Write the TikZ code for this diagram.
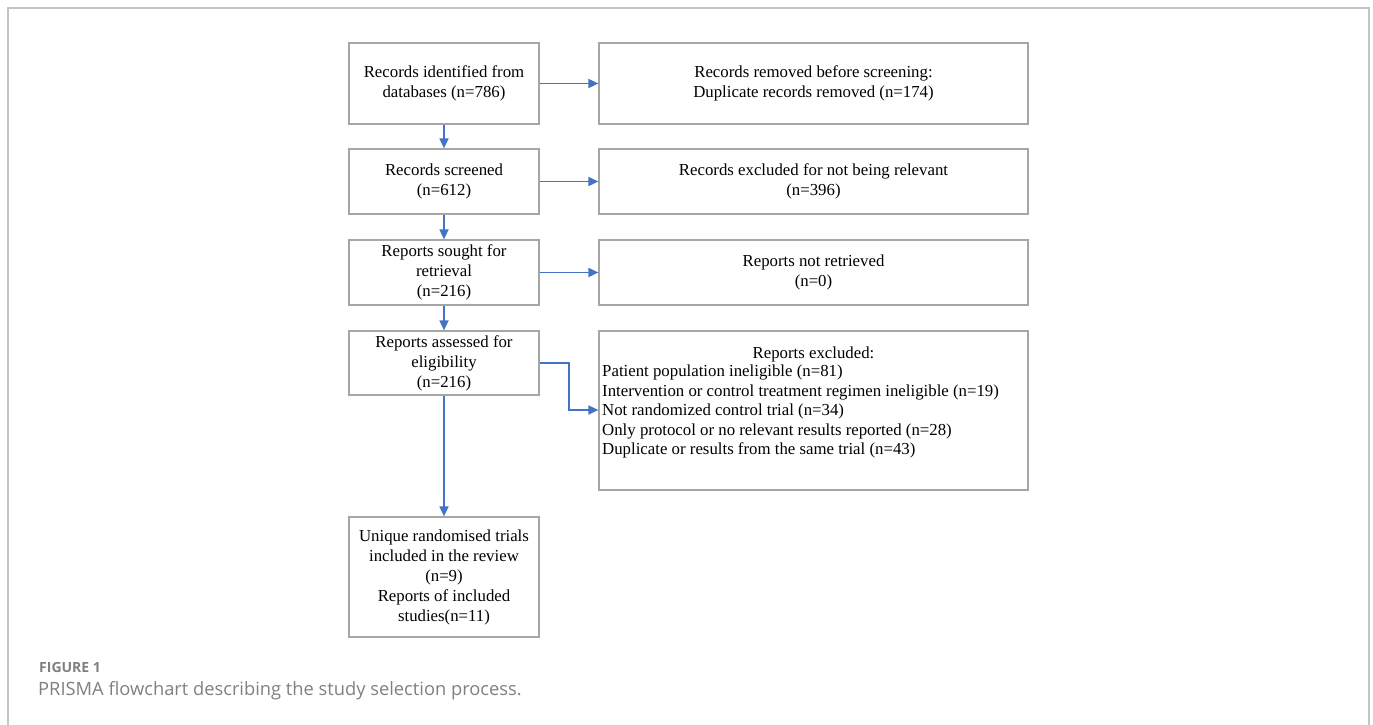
\documentclass[tikz,border=0pt]{standalone}
\usepackage{fontspec}
\setmainfont{Liberation Serif}
\newfontfamily\capfont{Open Sans}
\usetikzlibrary{arrows.meta}
\definecolor{arrowblue}{HTML}{4472C4}
\definecolor{boxgray}{HTML}{A6A6A6}
\definecolor{framegray}{HTML}{C4C4C4}
\definecolor{captgray}{HTML}{808080}
\begin{document}
\begin{tikzpicture}[x=1pt,y=-1pt,
  box/.style={draw=boxgray, line width=1.2pt, minimum width=190pt, inner sep=2pt, align=center, font=\fontsize{16.8}{20}\selectfont},
  widebox/.style={box, minimum width=429pt},
  arr/.style={draw=arrowblue, line width=1.7pt, -{Triangle[length=10pt,width=9pt]}},
  listtext/.style={inner sep=0pt, align=left, font=\fontsize{16.8}{19.5}\selectfont}]
\useasboundingbox (0,0) rectangle (1373,725);
\draw[framegray, line width=2pt] (8,725) -- (8,8) -- (1369,8) -- (1369,725);

\node[box, minimum height=81pt] (A) at (444,83.5) {Records identified from\\databases (n=786)};
\node[widebox, minimum height=81pt] (R1) at (813.5,83.5) {Records removed before screening:\\Duplicate records removed (n=174)};
\node[box, minimum height=65pt] (B) at (444,181.5) {Records screened\\(n=612)};
\node[widebox, minimum height=65pt] (R2) at (813.5,181.5) {Records excluded for not being relevant\\(n=396)};
\node[box, minimum height=65pt] (C) at (444,272.5) {Reports sought for\\retrieval\\(n=216)};
\node[widebox, minimum height=65pt] (R3) at (813.5,272.5) {Reports not retrieved\\(n=0)};
\node[box, minimum height=64pt] (D) at (444,363) {Reports assessed for\\eligibility\\(n=216)};
\node[widebox, minimum height=159pt] (R4) at (813.5,410.5) {};
\node[listtext, anchor=base] (R4t) at (813.5,358) {Reports excluded:};
\node[listtext, anchor=north west] (R4l) at (602,365) {Patient population ineligible (n=81)\\Intervention or control treatment regimen ineligible (n=19)\\Not randomized control trial (n=34)\\Only protocol or no relevant results reported (n=28)\\Duplicate or results from the same trial (n=43)};
\node[box, minimum height=120pt] (E) at (444,577) {Unique randomised trials\\included in the review\\(n=9)\\Reports of included\\studies(n=11)};

\coordinate (bend) at (569,363);
\draw[arr] (A) -- (R1);
\draw[arr] (B) -- (R2);
\draw[arr] (C) -- (R3);
\draw[arr] (D.east) -- (bend) |- (R4.west |- 0,410);
\draw[arr] (A) -- (B);
\draw[arr] (B) -- (C);
\draw[arr] (C) -- (D);
\draw[arr] (D) -- (E);

\node[anchor=base west, inner sep=0pt, text=captgray, font=\capfont\bfseries\fontsize{14}{16}\selectfont] (fig) at (39,672) {FIGURE 1};
\node[anchor=base west, inner sep=0pt, text=captgray, font=\capfont\fontsize{18.3}{20}\selectfont] (cap) at (38,695) {PRISMA flowchart describing the study selection process.};
\end{tikzpicture}
\end{document}
